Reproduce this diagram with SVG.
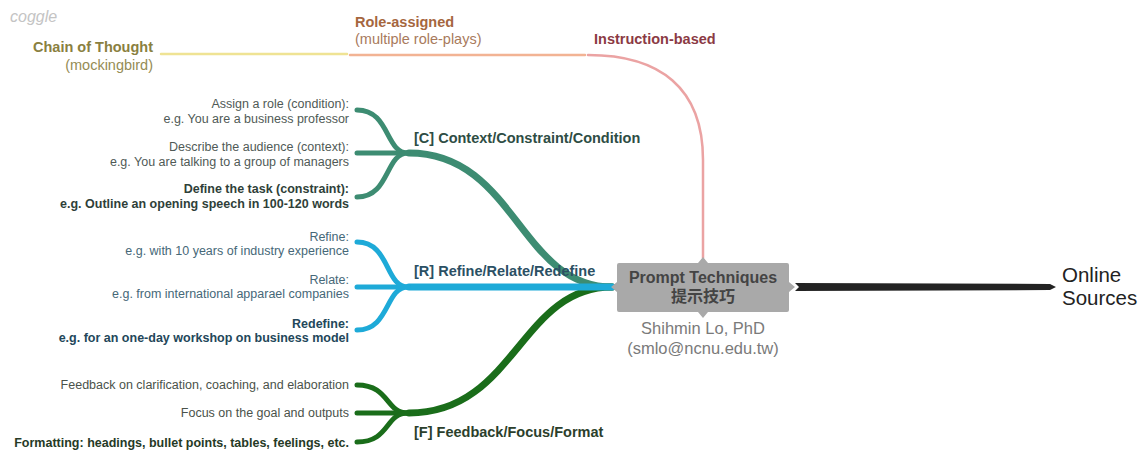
<svg xmlns="http://www.w3.org/2000/svg" width="1147" height="454" viewBox="0 0 1147 454">
<style>
text{font-family:"Liberation Sans",Arial,sans-serif}
.b{font-weight:bold}
.lbl{font-size:14.5px;font-weight:bold}
.ch{font-size:12.5px}
.end{text-anchor:end}
.line{fill:none;stroke-linecap:round}
.c{stroke:#3d8c72}
.r{stroke:#1eaad8}
.f{stroke:#1a6d1a}
.main{stroke-width:7}
.sub{stroke-width:5}
.ct{fill:#505a56}
.ctb{fill:#2f3f39}
.rt{fill:#466878}
.rtb{fill:#23475a}
.ft{fill:#4a524a}
.ftb{fill:#263a26}
</style>
<rect width="1147" height="454" fill="#ffffff"/>
<text x="10" y="22" font-family="DejaVu Sans,sans-serif" font-style="italic" font-size="16" fill="#c4c4c4">coggle</text>

<g id="connectors">
  <path class="line" d="M161,54 L347,54" stroke="#efe394" stroke-width="2.5"/>
  <path class="line" d="M350,55 L585,55" stroke="#f2b394" stroke-width="2.5"/>
  <path class="line" d="M588,55 C660,55 703,88 703,160 L703,258" stroke="#eba3a3" stroke-width="2.5"/>
  <path class="line c main" d="M612,287 C520,287 515,153 409,153"/>
  <path class="line f main" d="M612,287 C520,287 515,413 409,413"/>
  <path class="line r main" d="M612,287 L409,287"/>
  <path class="line c sub" d="M408,153 C385,153 390,110 357,110"/>
  <path class="line c sub" d="M408,153 L357,153"/>
  <path class="line c sub" d="M408,153 C385,153 390,197 357,197"/>
  <path class="line r sub" d="M408,287 C385,287 390,242 357,242"/>
  <path class="line r sub" d="M408,287 L357,287"/>
  <path class="line r sub" d="M408,287 C385,287 390,330 357,330"/>
  <path class="line f sub" d="M408,413 C385,413 390,385 357,385"/>
  <path class="line f sub" d="M408,413 L357,413"/>
  <path class="line f sub" d="M408,413 C385,413 390,442 357,442"/>
  <polygon points="795,283 1050,284 1056,287 1050,290 795,291 799,287" fill="#232323"/>
</g>

<g id="center">
  <path d="M619,263 L698,263 L703,257 L708,263 L787,263 Q789,263 789,265 L789,282 L795,287 L789,292 L789,310 Q789,312 787,312 L708,312 L703,318 L698,312 L619,312 Q617,312 617,310 L617,292 L611,287 L617,282 L617,265 Q617,263 619,263 Z" fill="#a9a9a9"/>
  <text x="703" y="283" text-anchor="middle" font-size="16" class="b" fill="#444">Prompt Techniques</text>
  <text x="703" y="302" text-anchor="middle" font-size="16" class="b" fill="#444" style="font-family:'Liberation Sans','Noto Sans CJK TC',sans-serif">提示技巧</text>
  <text x="703" y="334" text-anchor="middle" font-size="16.5" fill="#7a7a7a">Shihmin Lo, PhD</text>
  <text x="703" y="354" text-anchor="middle" font-size="16.5" fill="#7a7a7a">(smlo@ncnu.edu.tw)</text>
</g>

<g id="online-sources">
  <text x="1062" y="282" font-size="20.5" fill="#222">Online</text>
  <text x="1062" y="305" font-size="20.5" fill="#222">Sources</text>
</g>

<g id="chain-of-thought">
  <text x="153" y="52" class="lbl end" fill="#8a8040">Chain of Thought</text>
  <text x="153" y="70" font-size="14.5" class="end" fill="#958c55">(mockingbird)</text>
</g>
<g id="role-assigned">
  <text x="355" y="27" class="lbl" fill="#a5663e">Role-assigned</text>
  <text x="355" y="44" font-size="14.5" fill="#a87a5c">(multiple role-plays)</text>
</g>
<g id="instruction-based">
  <text x="594" y="44" class="lbl" fill="#8b3a44">Instruction-based</text>
</g>

<g id="branch-c">
  <text x="414" y="143" class="lbl" fill="#2e4d44">[C] Context/Constraint/Condition</text>
</g>
<g id="c1">
  <text x="349" y="108" class="ch end ct">Assign a role (condition):</text>
  <text x="349" y="123" class="ch end ct">e.g. You are a business professor</text>
</g>
<g id="c2">
  <text x="349" y="151" class="ch end ct">Describe the audience (context):</text>
  <text x="349" y="166" class="ch end ct">e.g. You are talking to a group of managers</text>
</g>
<g id="c3">
  <text x="349" y="193" class="ch end b ctb">Define the task (constraint):</text>
  <text x="349" y="208" class="ch end b ctb">e.g. Outline an opening speech in 100-120 words</text>
</g>

<g id="branch-r">
  <text x="414" y="276" class="lbl" fill="#2b5064">[R] Refine/Relate/Redefine</text>
</g>
<g id="r1">
  <text x="349" y="241" class="ch end rt">Refine:</text>
  <text x="349" y="255" class="ch end rt">e.g. with 10 years of industry experience</text>
</g>
<g id="r2">
  <text x="349" y="284" class="ch end rt">Relate:</text>
  <text x="349" y="298" class="ch end rt">e.g. from international apparael companies</text>
</g>
<g id="r3">
  <text x="349" y="328" class="ch end b rtb">Redefine:</text>
  <text x="349" y="342" class="ch end b rtb">e.g. for an one-day workshop on business model</text>
</g>

<g id="branch-f">
  <text x="414" y="437" class="lbl" fill="#2c3f2c">[F] Feedback/Focus/Format</text>
</g>
<g id="f1">
  <text x="349" y="389" class="ch end ft">Feedback on clarification, coaching, and elaboration</text>
</g>
<g id="f2">
  <text x="349" y="417" class="ch end ft">Focus on the goal and outputs</text>
</g>
<g id="f3">
  <text x="349" y="447" class="ch end b ftb">Formatting: headings, bullet points, tables, feelings, etc.</text>
</g>
</svg>
